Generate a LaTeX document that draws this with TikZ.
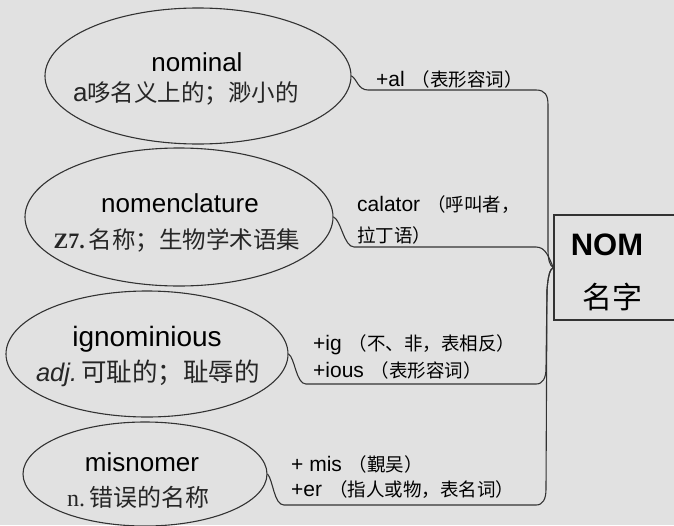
\documentclass[tikz,border=0pt]{standalone}
\usepackage{fontspec}
\usetikzlibrary{shapes.geometric}
\newfontfamily\en{Liberation Sans}
\newfontfamily\ser{Liberation Serif}
\newfontfamily\cjk{Noto Sans CJK SC}
\definecolor{bg}{RGB}{225,225,225}
\definecolor{ink}{RGB}{50,50,50}
\newcommand\fs[1]{\fontsize{#1}{#1}\selectfont}
\newcommand\zh[1]{\hspace{7pt}{\cjk\fs{18.5}#1}}
\newcommand\zhb[1]{{\cjk\fs{18.5}#1}}
\begin{document}
\begin{tikzpicture}[x=1pt,y=-1pt,
  bubble/.style={draw=ink, line width=1.1pt, ellipse, inner sep=0pt},
  conn/.style={draw=ink, line width=1.1pt},
  word/.style={inner sep=0pt, font=\en\fs{26}, text=black},
  mean/.style={inner sep=0pt, font=\cjk\fs{23.5}, text=black!85},
  lab/.style={inner sep=0pt, anchor=west, font=\en\fs{21}, text=black},
  ]
\useasboundingbox (0,0) rectangle (674,525);
\fill[bg] (0,0) rectangle (674,525);
\clip (0,0) rectangle (674,525);

% ellipses
\node[bubble, minimum width=306pt, minimum height=136pt] (e1) at (198,76) {};
\node[bubble, minimum width=308pt, minimum height=138pt] (e2) at (179,217) {};
\node[bubble, minimum width=282pt, minimum height=126pt] (e3) at (147,354) {};
\node[bubble, minimum width=244pt, minimum height=104pt] (e4) at (145,474) {};

% box
\node[draw=ink, line width=1.4pt, minimum width=130pt, minimum height=105pt, inner sep=0pt] (nom) at (619,267.5) {};
\node[inner sep=0pt, font=\en\bfseries\fs{31}] (nomA) at (607,245) {NOM};
\node[inner sep=0pt, font=\cjk\fs{30}] (nomB) at (612,297) {名字};

% ellipse texts
\node[word] (w1) at (197,62) {nominal};
\node[mean] (m1) at (186,93) {{\en\fs{26}a}哆名义上的；渺小的};
\node[word] (w2) at (180,203) {nomenclature};
\node[mean] (m2) at (177,240) {{\ser\bfseries\fs{22}Z7.}\,名称；生物学术语集};
\node[word, font=\en\fs{28}] (w3) at (147,339) {ignominious};
\node[mean, font=\cjk\fs{25.5}] (m3) at (148,373) {{\en\itshape adj.}\,可耻的；耻辱的};
\node[word] (w4) at (142,462) {misnomer};
\node[mean, font=\cjk\fs{24}] (m4) at (138,497) {{\ser n.}\,错误的名称};

% labels
\node[lab] (l1) at (376,79) {+al\zh{（表形容词）}};
\node[lab] (l2a) at (357,205) {calator\zh{（呼叫者，}};
\node[lab] (l2b) at (357,235) {\zhb{拉丁语）}};
\node[lab] (l3a) at (313,345) {+ig\zh{（不、非，表相反）}};
\node[lab] (l3b) at (313,370) {+ious\zh{（表形容词）}};
\node[lab] (l4a) at (291,464) {+ mis\zh{（覲吴）}};
\node[lab] (l4b) at (291,490) {+er\zh{（指人或物，表名词）}};

% connectors
\draw[conn] (e1.east) .. controls (357,79) and (358,90) .. (368,90) -- (536,90)
  .. controls (545,90) and (548,95) .. (548,105) -- (548,250)
  .. controls (548,260) and (550,266) .. (nom.west);
\draw[conn] (e2.east) .. controls (341,220) and (344,247) .. (354,247) -- (536,247)
  .. controls (546,247) and (549,258) .. (nom.west);
\draw[conn] (e3.east) .. controls (295,358) and (296,384) .. (306,384) -- (536,384)
  .. controls (543,384) and (546,378) .. (546,368) -- (547,290)
  .. controls (548,276) and (550,269) .. (nom.west);
\draw[conn] (e4.east) .. controls (273,480) and (274,505) .. (284,505) -- (536,505)
  .. controls (543,505) and (546,499) .. (546,489) -- (547,290)
  .. controls (548,276) and (550,269) .. (nom.west);
\end{tikzpicture}
\end{document}
